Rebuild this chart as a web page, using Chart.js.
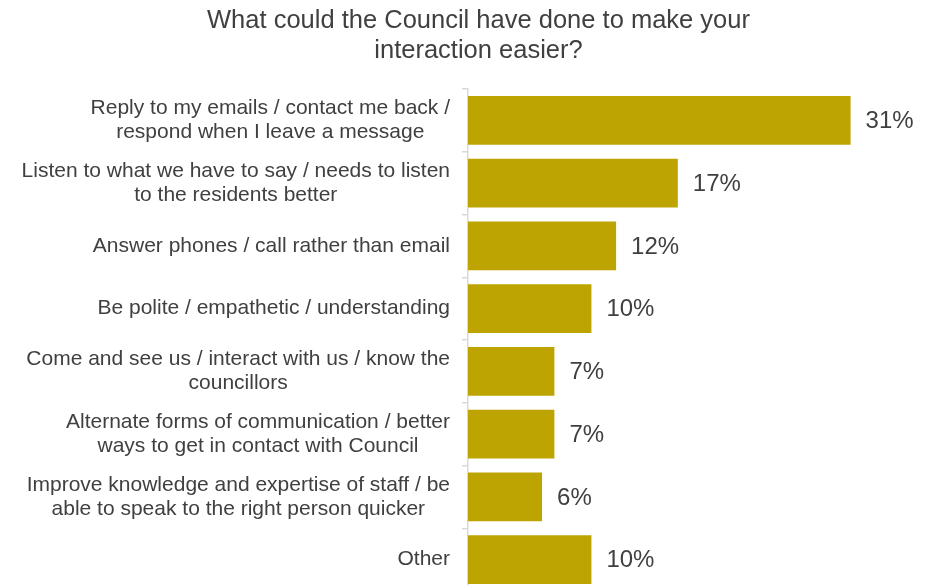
<!DOCTYPE html>
<html>
<head>
<meta charset="utf-8">
<script src="https://cdn.jsdelivr.net/npm/chart.js@4/dist/chart.umd.min.js"></script>
<style>
  html, body { margin: 0; padding: 0; background: #fff; overflow: hidden; }
  canvas { display: block; }
</style>
</head>
<body>
<canvas id="chart" width="937" height="600"></canvas>
<script>
const TITLE_LINES = ["What could the Council have done to make your", "interaction easier?"];

const categories = [
  ["Reply to my emails / contact me back /", "respond when I leave a message"],
  ["Listen to what we have to say / needs to listen", "to the residents better"],
  "Answer phones / call rather than email",
  "Be polite / empathetic / understanding",
  ["Come and see us / interact with us / know the", "councillors"],
  ["Alternate forms of communication / better", "ways to get in contact with Council"],
  ["Improve knowledge and expertise of staff / be", "able to speak to the right person quicker"],
  "Other",
];

const percentValues = [31, 17, 12, 10, 7, 7, 6, 10];

const BAR_COLOR = "#bea400";
const TEXT_COLOR = "#404040";
const AXIS_COLOR = "#d9d9d9";
const FONT_FAMILY = "'Liberation Sans', Arial, sans-serif";

// category labels: each block right-aligned to the axis, its lines centred within it
const categoryLabels = {
  id: "categoryLabels",
  afterDraw(chart) {
    const { ctx } = chart;
    const yScale = chart.scales.y;
    const rightEdge = yScale.right - 18;
    const lineH = 24;
    ctx.save();
    ctx.font = `21px ${FONT_FAMILY}`;
    ctx.fillStyle = TEXT_COLOR;
    ctx.textAlign = "center";
    ctx.textBaseline = "middle";
    categories.forEach((label, i) => {
      const lines = Array.isArray(label) ? label : [label];
      const blockW = Math.max(...lines.map((l) => ctx.measureText(l).width));
      const cx = rightEdge - blockW / 2;
      const cy = yScale.getPixelForTick(i);
      lines.forEach((line, j) => {
        ctx.fillText(line, cx, cy + (j - (lines.length - 1) / 2) * lineH);
      });
    });
    ctx.restore();
  },
};

// writes "NN%" just past the end of each bar
const valueLabels = {
  id: "valueLabels",
  afterDatasetsDraw(chart) {
    const { ctx } = chart;
    const meta = chart.getDatasetMeta(0);
    ctx.save();
    ctx.font = `24px ${FONT_FAMILY}`;
    ctx.fillStyle = TEXT_COLOR;
    ctx.textAlign = "left";
    ctx.textBaseline = "middle";
    meta.data.forEach((bar, i) => {
      ctx.fillText(`${percentValues[i]}%`, bar.x + 15, bar.y + 1);
    });
    ctx.restore();
  },
};

const ctx = document.getElementById("chart").getContext("2d");
new Chart(ctx, {
  type: "bar",
  data: {
    labels: categories,
    datasets: [
      {
        data: percentValues,
        backgroundColor: BAR_COLOR,
        borderWidth: 0,
        categoryPercentage: 1,
        barPercentage: 0.78,
      },
    ],
  },
  options: {
    indexAxis: "y",
    responsive: false,
    animation: false,
    layout: { padding: { left: 20, right: 0, top: 0, bottom: 9 } },
    plugins: {
      legend: { display: false },
      tooltip: { enabled: false },
      title: {
        display: true,
        text: TITLE_LINES,
        color: TEXT_COLOR,
        font: { family: FONT_FAMILY, size: 25.5, weight: "normal", lineHeight: 30 / 25.5 },
        padding: { top: 6, bottom: 23 },
      },
    },
    scales: {
      x: {
        display: false,
        min: 0,
        max: 38,
      },
      y: {
        afterFit: (scale) => {
          scale.width = 448;
        },
        border: { display: true, color: AXIS_COLOR, width: 1.5 },
        grid: {
          offset: true,
          drawOnChartArea: false,
          drawTicks: true,
          tickLength: 6,
          color: AXIS_COLOR,
          lineWidth: 1.5,
        },
        ticks: { display: false },
      },
    },
  },
  plugins: [valueLabels, categoryLabels],
});
</script>
</body>
</html>
